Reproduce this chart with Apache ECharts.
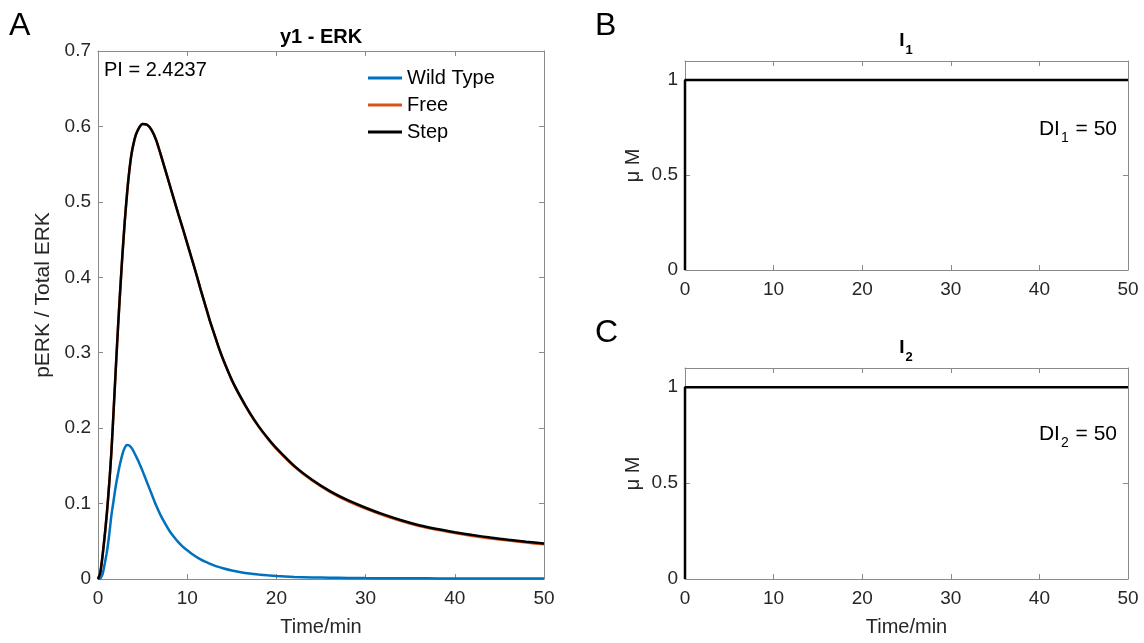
<!DOCTYPE html>
<html>
<head>
<meta charset="utf-8">
<script src="https://cdn.jsdelivr.net/npm/echarts@6/dist/echarts.min.js"></script>
<style>
  html, body { margin: 0; padding: 0; background: #ffffff; }
  #chart { width: 1144px; height: 643px; }
</style>
</head>
<body>
<div id="chart"></div>
<script>
// ERK response over time (minutes)
const timeMin = [0, 0.25, 0.5, 0.75, 1.0, 1.25, 1.5, 1.75, 2.0, 2.25, 2.5, 2.75, 3.0, 3.25, 3.5, 3.75, 4.0, 4.25, 4.5, 4.75, 5.0,
  5.5, 6.0, 6.5, 7.0, 7.5, 8.0, 8.5, 9.0, 9.5, 10.0, 10.5, 11.0, 11.5, 12.0, 12.5, 13.0, 13.5, 14.0,
  15, 16, 17, 18, 19, 20, 22, 24, 26, 28, 30, 32, 34, 36, 38, 40, 42, 44, 46, 48, 50];

const wildType = [0, 0.0005, 0.006, 0.020, 0.036, 0.058, 0.084, 0.104, 0.124, 0.140, 0.154, 0.166, 0.174, 0.1775, 0.177, 0.174, 0.169, 0.163, 0.157, 0.150, 0.143,
  0.128, 0.113, 0.098, 0.085, 0.074, 0.064, 0.056, 0.049, 0.043, 0.038, 0.0335, 0.0295, 0.026, 0.023, 0.0204, 0.018, 0.016, 0.0142,
  0.0112, 0.0090, 0.0073, 0.0060, 0.0049, 0.0040, 0.0028, 0.0021, 0.0017, 0.0014, 0.0012, 0.0011, 0.0010, 0.0009, 0.0008, 0.0008, 0.0007, 0.0007, 0.0006, 0.0006, 0.0006];

const freeInput = [0, 0.008, 0.030, 0.057, 0.088, 0.125, 0.168, 0.223, 0.280, 0.335, 0.385, 0.432, 0.474, 0.510, 0.540, 0.563, 0.578, 0.589, 0.596, 0.601, 0.6033,
  0.6022, 0.5955, 0.5825, 0.564, 0.544, 0.524, 0.504, 0.484, 0.465, 0.445, 0.425, 0.405, 0.384, 0.364, 0.344, 0.326, 0.308, 0.292,
  0.2636, 0.2405, 0.2199, 0.2020, 0.1864, 0.1726, 0.1491, 0.1306, 0.1156, 0.1034, 0.0934, 0.0845, 0.0768, 0.0702, 0.0651, 0.0609, 0.0571, 0.0538, 0.0509, 0.0483, 0.0459];

const stepInput = [0, 0.008, 0.030, 0.057, 0.088, 0.125, 0.168, 0.223, 0.280, 0.335, 0.385, 0.432, 0.474, 0.510, 0.540, 0.563, 0.578, 0.589, 0.596, 0.601, 0.6033,
  0.6022, 0.5955, 0.5825, 0.564, 0.544, 0.524, 0.504, 0.484, 0.465, 0.445, 0.425, 0.405, 0.384, 0.364, 0.344, 0.326, 0.308, 0.292,
  0.264, 0.241, 0.2205, 0.2027, 0.1872, 0.1734, 0.1500, 0.1316, 0.1166, 0.1045, 0.0945, 0.0856, 0.0779, 0.0713, 0.0662, 0.0620, 0.0582, 0.0549, 0.0520, 0.0494, 0.0470];

// Input profiles I1 and I2 (µM)
const inputTime = [0, 0, 50];
const input1 = [0, 1, 1];
const input2 = [0, 1, 1];

const yTicksERK = { min: 0, max: 0.7, interval: 0.1 };
const yTicksInput = { min: 0, max: 1.1, interval: 0.5 };
const xTicks = { min: 0, max: 50, interval: 10 };

const seriesNames = ['Wild Type', 'Free', 'Step'];
const colors = ['#0072BD', '#D95319', '#000000'];

const FONT = 'Liberation Sans, Arial, Helvetica, sans-serif';
const AXIS_GRAY = '#8a8a8a';
const TEXT = '#262626';
const TICK_FS = 19;
const LABEL_FS = 20;

function pairs(xs, ys) { return xs.map((x, i) => [x, ys[i]]); }

function xAxisPair(gridIndex, name) {
  return [
    {
      type: 'value', gridIndex, position: 'bottom', ...xTicks,
      name: name || '', nameLocation: 'middle', nameGap: 38,
      nameTextStyle: { fontFamily: FONT, fontSize: LABEL_FS, color: TEXT },
      axisLine: { show: true, onZero: false, lineStyle: { color: AXIS_GRAY, width: 1 } },
      axisTick: { show: true, inside: true, length: 5, lineStyle: { color: AXIS_GRAY } },
      axisLabel: { fontFamily: FONT, fontSize: TICK_FS, color: TEXT, margin: 10 },
      splitLine: { show: false }
    },
    {
      type: 'value', gridIndex, position: 'top', ...xTicks,
      axisLine: { show: true, onZero: false, lineStyle: { color: AXIS_GRAY, width: 1 } },
      axisTick: { show: true, inside: true, length: 5, lineStyle: { color: AXIS_GRAY } },
      axisLabel: { show: false }, splitLine: { show: false }
    }
  ];
}

function yAxisPair(gridIndex, ticks, name, nameOpts, showMax) {
  return [
    {
      type: 'value', gridIndex, position: 'left', ...ticks,
      name, nameLocation: 'middle', nameGap: nameOpts.gap,
      nameTextStyle: { fontFamily: FONT, fontSize: nameOpts.size, color: TEXT, padding: nameOpts.padding },
      axisLine: { show: true, onZero: false, lineStyle: { color: AXIS_GRAY, width: 1 } },
      axisTick: { show: true, inside: true, length: 5, lineStyle: { color: AXIS_GRAY } },
      axisLabel: { fontFamily: FONT, fontSize: TICK_FS, color: TEXT, margin: 7, showMaxLabel: showMax },
      splitLine: { show: false }
    },
    {
      type: 'value', gridIndex, position: 'right', ...ticks,
      axisLine: { show: true, onZero: false, lineStyle: { color: AXIS_GRAY, width: 1 } },
      axisTick: { show: true, inside: true, length: 5, lineStyle: { color: AXIS_GRAY } },
      axisLabel: { show: false }, splitLine: { show: false }
    }
  ];
}

const xAxes = [...xAxisPair(0, 'Time/min'), ...xAxisPair(1, ''), ...xAxisPair(2, 'Time/min')];
const yAxes = [
  ...yAxisPair(0, yTicksERK, 'pERK / Total ERK', { gap: 44, size: 21, padding: [0, 0, 0, 40] }, true),
  ...yAxisPair(1, yTicksInput, 'μ M', { gap: 42, size: LABEL_FS, padding: 0 }, false),
  ...yAxisPair(2, yTicksInput, 'μ M', { gap: 42, size: LABEL_FS, padding: 0 }, false)
];

const ercSeries = [wildType, freeInput, stepInput].map((vals, i) => ({
  name: seriesNames[i], type: 'line', xAxisIndex: 0, yAxisIndex: 0,
  data: pairs(timeMin, vals), smooth: 0.25,
  symbol: 'none', lineStyle: { color: colors[i], width: 2.5 }, itemStyle: { color: colors[i] },
  emphasis: { disabled: true }
}));

const inputSeries = [input1, input2].map((vals, i) => ({
  type: 'line', xAxisIndex: 2 * (i + 1), yAxisIndex: 2 * (i + 1),
  data: pairs(inputTime, vals), symbol: 'none',
  lineStyle: { color: '#000000', width: 2.5 }, emphasis: { disabled: true }
}));

const subRich = {
  b: { fontFamily: FONT, fontSize: 19, fontWeight: 'bold', color: '#000', lineHeight: 21, verticalAlign: 'top' },
  bs: { fontFamily: FONT, fontSize: 13, fontWeight: 'bold', color: '#000', padding: [12, 0, 0, 1], verticalAlign: 'bottom' },
  n: { fontFamily: FONT, fontSize: 21, color: '#000', lineHeight: 23, verticalAlign: 'top' },
  ns: { fontFamily: FONT, fontSize: 14, color: '#000', padding: [13, 1, 0, 1], verticalAlign: 'bottom' }
};

function text(x, y, str, opts) {
  return {
    type: 'text', x, y, silent: true,
    style: Object.assign({ text: str, fontFamily: FONT, fontSize: 20, fill: '#000', align: 'left', verticalAlign: 'middle', rich: subRich }, opts || {})
  };
}

const option = {
  animation: false,
  backgroundColor: '#ffffff',
  grid: [
    { left: 98, top: 51, width: 446, height: 528, outerBoundsMode: 'none', containLabel: false },
    { left: 685, top: 61, width: 443, height: 209, outerBoundsMode: 'none', containLabel: false },
    { left: 685, top: 368, width: 443, height: 211, outerBoundsMode: 'none', containLabel: false }
  ],
  xAxis: xAxes,
  yAxis: yAxes,
  legend: {
    left: 363, top: 62, orient: 'vertical', itemWidth: 34, itemHeight: 3, itemGap: 5,
    icon: 'rect', data: seriesNames, selectedMode: false,
    textStyle: { fontFamily: FONT, fontSize: LABEL_FS, color: '#000', lineHeight: 22 }
  },
  graphic: [
    text(9, 26, 'A', { fontSize: 32 }),
    text(595, 26, 'B', { fontSize: 32 }),
    text(595, 333, 'C', { fontSize: 32 }),
    text(321, 37, 'y1 - ERK', { align: 'center', fontWeight: 'bold', fontSize: 20 }),
    text(906, 44, '{b|I}{bs|1}', { align: 'center' }),
    text(906, 351, '{b|I}{bs|2}', { align: 'center' }),
    text(104, 70, 'PI = 2.4237'),
    text(1117, 132, '{n|DI}{ns|1}{n| = 50}', { align: 'right' }),
    text(1117, 437, '{n|DI}{ns|2}{n| = 50}', { align: 'right' })
  ],
  series: [...ercSeries, ...inputSeries]
};

const chart = echarts.init(document.getElementById('chart'), null, { renderer: 'canvas' });
chart.setOption(option);
</script>
</body>
</html>
